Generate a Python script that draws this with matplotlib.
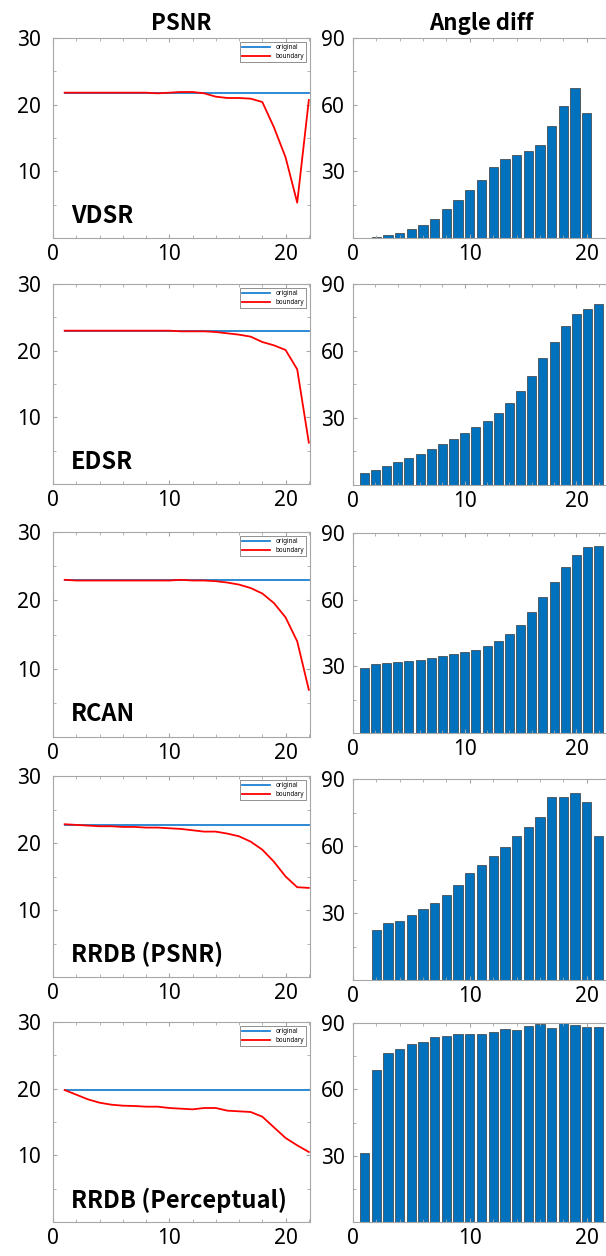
import matplotlib
matplotlib.use("Agg")
import matplotlib.pyplot as plt
from matplotlib.ticker import MultipleLocator

plt.rcParams['font.family'] = ['Noto Sans', 'DejaVu Sans']
BOLD_FONT = ['Noto Sans CJK KR', 'DejaVu Sans']

# data
models = ["VDSR", "EDSR", "RCAN", "RRDB (PSNR)", "RRDB (Perceptual)"]
layer = list(range(1, 23))

psnr_original = [21.8, 23.0, 23.0, 22.7, 19.85]

psnr_vdsr = [21.8, 21.8, 21.8, 21.8, 21.8, 21.8, 21.8, 21.8, 21.7, 21.8, 21.9,
             21.9, 21.7, 21.2, 21.0, 21.0, 20.9, 20.4, 16.6, 12.1, 5.3, 20.7]
psnr_edsr = [23.0, 23.0, 23.0, 23.0, 23.0, 23.0, 23.0, 23.0, 23.0, 23.0, 22.9,
             22.9, 22.9, 22.8, 22.6, 22.4, 22.1, 21.3, 20.8, 20.1, 17.2, 6.2]
psnr_rcan = [23.0, 22.9, 22.9, 22.9, 22.9, 22.9, 22.9, 22.9, 22.9, 22.9, 23.0,
             22.9, 22.9, 22.8, 22.6, 22.3, 21.8, 21.0, 19.6, 17.5, 14.0, 6.9]
psnr_rrdb = [22.8, 22.7, 22.6, 22.5, 22.5, 22.4, 22.4, 22.3, 22.3, 22.2, 22.1,
             21.9, 21.7, 21.7, 21.4, 21.0, 20.2, 19.0, 17.2, 15.0, 13.4, 13.3]
psnr_rrdb_p = [19.8, 19.1, 18.4, 17.9, 17.6, 17.45, 17.4, 17.3, 17.3, 17.1, 17.0,
               16.9, 17.1, 17.1, 16.7, 16.6, 16.5, 15.8, 14.2, 12.6, 11.5, 10.5]
psnr_boundary = [psnr_vdsr, psnr_edsr, psnr_rcan, psnr_rrdb, psnr_rrdb_p]

angle_layers = [list(range(2, 21)), list(range(1, 23)), list(range(1, 23)),
                list(range(2, 22)), list(range(1, 22))]
angle_vdsr = [0.6, 1.5, 2.4, 4.2, 5.8, 8.7, 12.9, 17.2, 21.7, 26.2, 31.9,
              35.7, 37.2, 39.1, 42.0, 50.5, 59.5, 67.6, 56.2]
angle_edsr = [5.2, 6.7, 8.5, 10.1, 11.9, 14.0, 16.0, 18.2, 20.4, 23.1, 25.8,
              28.8, 32.4, 36.9, 42.2, 48.8, 56.7, 64.2, 71.2, 76.4, 79.0, 81.0]
angle_rcan = [29.1, 31.0, 31.6, 32.1, 32.4, 33.0, 33.6, 34.5, 35.4, 36.3, 37.3,
              39.1, 41.2, 44.4, 48.7, 54.3, 61.0, 67.8, 74.7, 80.2, 83.7, 84.0]
angle_rrdb = [22.3, 25.4, 26.3, 29.0, 31.7, 34.4, 38.1, 42.6, 48.1, 51.4,
              55.6, 59.5, 64.3, 68.5, 72.8, 81.8, 81.8, 83.6, 79.5, 64.7]
angle_rrdb_p = [31.0, 68.8, 76.4, 78.4, 80.6, 81.4, 83.5, 84.0, 85.2, 85.2, 84.9,
                85.9, 87.1, 86.7, 88.5, 89.7, 87.9, 90.0, 89.3, 88.2, 88.2]
angle_diff = [angle_vdsr, angle_edsr, angle_rcan, angle_rrdb, angle_rrdb_p]

W, H = 606, 1256
fig = plt.figure(figsize=(W / 100, H / 100), dpi=100)

rows_left = [(38, 238), (284, 484), (532, 737), (776, 977), (1022, 1222)]
rows_right = [(38, 238), (284, 485), (533, 733), (779, 980), (1023, 1222)]
bar_xmax = [22, 23, 23, 22, 22]

spine_col = '#a6a6a6'
line_blue = '#1f80d0'
bar_blue = '#0072BD'


def style(ax, ymajor, yminor, ypad):
    for s in ax.spines.values():
        s.set_color(spine_col)
        s.set_linewidth(0.8)
    ax.xaxis.set_major_locator(MultipleLocator(10))
    ax.xaxis.set_minor_locator(MultipleLocator(2))
    ax.yaxis.set_major_locator(MultipleLocator(ymajor))
    ax.yaxis.set_minor_locator(MultipleLocator(yminor))
    ax.tick_params(which='both', direction='in', top=True, right=True,
                   color=spine_col, labelsize=15)
    ax.tick_params(axis='x', pad=4)
    ax.tick_params(axis='y', pad=ypad)
    ax.tick_params(which='major', length=3)
    ax.tick_params(which='minor', length=2.5)


for i in range(5):
    top, bot = rows_left[i]
    ax = fig.add_axes([53 / W, 1 - bot / H, 257 / W, (bot - top) / H])
    ax.plot(layer, [psnr_original[i]] * len(layer), color=line_blue, lw=1.3,
            label='original')
    ax.plot(layer, psnr_boundary[i], color='red', lw=1.3, label='boundary')
    ax.set_xlim(0, 22.1)
    ax.set_ylim(0, 30)
    style(ax, 10, 5, 9)
    ax.set_yticks([10, 20, 30])
    ax.set_xticks([0, 10, 20])
    ax.text(0.07, 0.11, models[i], transform=ax.transAxes, fontsize=17,
            fontweight='bold', va='center', ha='left', family=BOLD_FONT)
    leg = ax.legend(loc='upper right', fontsize=4.5, handlelength=4.5,
                    borderaxespad=0.6, fancybox=False, framealpha=1,
                    borderpad=0.4, labelspacing=0.25)
    leg.get_frame().set_edgecolor('#808080')
    leg.get_frame().set_linewidth(0.6)
    if i == 0:
        ax.set_title('PSNR', fontsize=16, fontweight='bold', pad=6,
                     family=BOLD_FONT)

    top, bot = rows_right[i]
    ax2 = fig.add_axes([353 / W, 1 - bot / H, 257 / W, (bot - top) / H])
    ax2.bar(angle_layers[i], angle_diff[i], width=0.8, color=bar_blue,
            edgecolor='#3a3a3a', linewidth=0.5)
    ax2.set_xlim(0, bar_xmax[i])
    ax2.set_ylim(0, 90)
    style(ax2, 30, 15, 6)
    ax2.set_yticks([30, 60, 90])
    ax2.set_xticks([0, 10, 20])
    if i == 0:
        ax2.set_title('Angle diff', fontsize=16, fontweight='bold', pad=6,
                      family=BOLD_FONT)

fig.savefig('out.png', dpi=100)
